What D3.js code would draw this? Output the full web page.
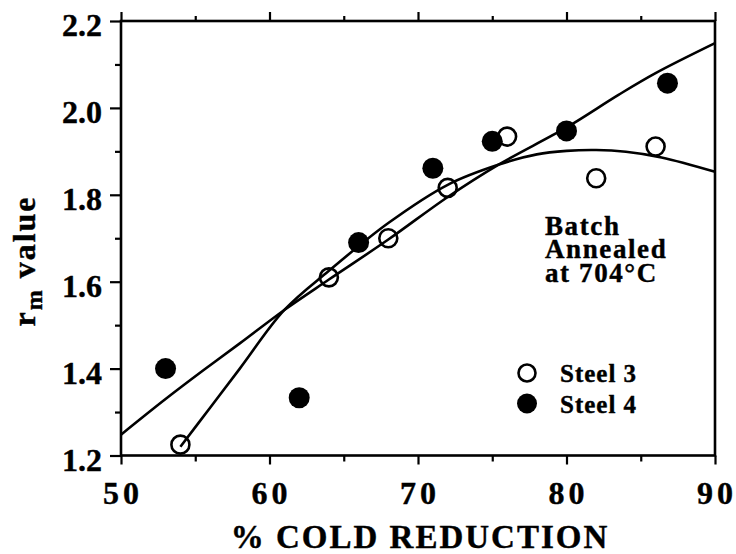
<!DOCTYPE html>
<html>
<head>
<meta charset="utf-8">
<script src="https://cdn.jsdelivr.net/npm/d3@7"></script>
<style>
  body { margin: 0; background: #fff; }
  text { font-family: "Liberation Serif", "Times New Roman", serif; font-weight: bold; fill: #000; stroke: #000; stroke-width: 0.4; }
</style>
</head>
<body>
<div id="chart"></div>
<script>
// 1: DATA
const xMajor = [50, 60, 70, 80, 90];
const xMinor = [55, 65, 75, 85];
const yMajor = [1.2, 1.4, 1.6, 1.8, 2.0, 2.2];
const yMinor = [1.3, 1.5, 1.7, 1.9, 2.1];

// measured points
const steel3X = [54, 64, 68, 72, 76, 82, 86];
const steel3Y = [1.225, 1.61, 1.70, 1.816, 1.934, 1.838, 1.911];
const steel4X = [53, 62, 66, 71, 75, 80, 86.8];
const steel4Y = [1.40, 1.333, 1.69, 1.861, 1.923, 1.947, 2.057];

// hand-drawn fit curves
const fit3X = [54, 56, 58, 61, 64, 68, 72, 75.4, 78, 80, 82, 84, 86.4, 90];
const fit3Y = [1.22, 1.31, 1.40, 1.535, 1.625, 1.735, 1.823, 1.869, 1.893, 1.901, 1.903, 1.899, 1.886, 1.853];
const fit4X = [50, 53, 55.5, 58, 61, 64, 68, 72, 75.4, 80, 83.5, 86, 90];
const fit4Y = [1.248, 1.33, 1.395, 1.458, 1.535, 1.605, 1.697, 1.795, 1.869, 1.955, 2.03, 2.08, 2.149];

const legendLabels = ["Steel 3", "Steel 4"];
const noteLines = ["Batch", "Annealed", "at 704°C"];

// 2: SIZES
const W = 736, H = 554;
const plot = { left: 121, right: 715, top: 21, bottom: 455.5 };

const svg = d3.select("#chart").append("svg")
    .attr("width", W)
    .attr("height", H);

const x = d3.scaleLinear().domain([50, 90]).range([plot.left, plot.right]);
const y = d3.scaleLinear().domain([1.2, 2.2]).range([plot.bottom, plot.top]);

// 3: AXES (ticks point outward)
function ticks(axisFn, values, size, pos) {
    const g = svg.append("g")
        .attr("transform", pos)
        .call(axisFn.tickValues(values).tickSize(size).tickFormat(""));
    g.select(".domain").remove();
    g.selectAll("line").attr("stroke", "#000").attr("stroke-width", 2.2);
    return g;
}
ticks(d3.axisBottom(x), xMajor, 9, `translate(0,${plot.bottom})`);
ticks(d3.axisBottom(x), xMinor, 6, `translate(0,${plot.bottom})`);
ticks(d3.axisTop(x), xMajor, 9, `translate(0,${plot.top})`);
ticks(d3.axisTop(x), xMinor, 5, `translate(0,${plot.top})`);
ticks(d3.axisLeft(y), yMajor, 11, `translate(${plot.left},0)`);
ticks(d3.axisLeft(y), yMinor, 6, `translate(${plot.left},0)`);

// frame
svg.append("rect")
    .attr("x", plot.left)
    .attr("y", plot.top)
    .attr("width", plot.right - plot.left)
    .attr("height", plot.bottom - plot.top)
    .attr("fill", "none")
    .attr("stroke", "#000")
    .attr("stroke-width", 2.6);

// tick labels
svg.selectAll(".xlab").data(xMajor).enter().append("text")
    .attr("class", "xlab")
    .attr("x", d => x(d) + 2)
    .attr("y", 503.5)
    .attr("text-anchor", "middle")
    .attr("font-size", 32)
    .attr("letter-spacing", 4)
    .text(d => d);

svg.selectAll(".ylab").data(yMajor).enter().append("text")
    .attr("class", "ylab")
    .attr("x", 102)
    .attr("y", d => y(d) + 15)
    .attr("text-anchor", "end")
    .attr("font-size", 32)
    .text(d => d3.format(".1f")(d));

// axis titles
svg.append("text")
    .attr("x", 420)
    .attr("y", 548)
    .attr("text-anchor", "middle")
    .attr("font-size", 33)
    .attr("letter-spacing", 2)
    .text("% COLD REDUCTION");

const yTitle = svg.append("text")
    .attr("transform", "translate(35,261) rotate(-90)")
    .attr("text-anchor", "middle")
    .attr("font-size", 32)
    .attr("letter-spacing", 2);
yTitle.append("tspan").text("r");
yTitle.append("tspan").attr("font-size", 24).attr("dy", 7).text("m");
yTitle.append("tspan").attr("dy", -7).text(" value");

// 4: CURVES
const line = d3.line()
    .x(d => x(d[0]))
    .y(d => y(d[1]))
    .curve(d3.curveCatmullRom.alpha(0.5));

[[fit3X, fit3Y], [fit4X, fit4Y]].forEach(([xs, ys]) => {
    svg.append("path")
        .datum(xs.map((v, i) => [v, ys[i]]))
        .attr("fill", "none")
        .attr("stroke", "#000")
        .attr("stroke-width", 2.6)
        .attr("d", line);
});

// 5: POINTS
svg.selectAll(".s3").data(steel3X).enter().append("circle")
    .attr("class", "s3")
    .attr("cx", d => x(d))
    .attr("cy", (d, i) => y(steel3Y[i]))
    .attr("r", 9)
    .attr("fill", "none")
    .attr("stroke", "#000")
    .attr("stroke-width", 2.6);

svg.selectAll(".s4").data(steel4X).enter().append("circle")
    .attr("class", "s4")
    .attr("cx", d => x(d))
    .attr("cy", (d, i) => y(steel4Y[i]))
    .attr("r", 10.5)
    .attr("fill", "#000");

// 6: ANNOTATION + LEGEND
noteLines.forEach((t, i) => {
    svg.append("text")
        .attr("x", 545)
        .attr("y", 235 + i * 23.4)
        .attr("font-size", 27)
        .attr("letter-spacing", 1.6)
        .text(t);
});

legendLabels.forEach((t, i) => {
    const row = svg.append("g").attr("transform", `translate(527,${373 + i * 30.5})`);
    row.append("circle")
        .attr("r", i === 0 ? 8.5 : 10)
        .attr("fill", i === 0 ? "none" : "#000")
        .attr("stroke", i === 0 ? "#000" : "none")
        .attr("stroke-width", 2.6);
    row.append("text")
        .attr("x", 33)
        .attr("y", 9)
        .attr("font-size", 25)
        .attr("letter-spacing", 1)
        .text(t);
});
</script>
</body>
</html>
